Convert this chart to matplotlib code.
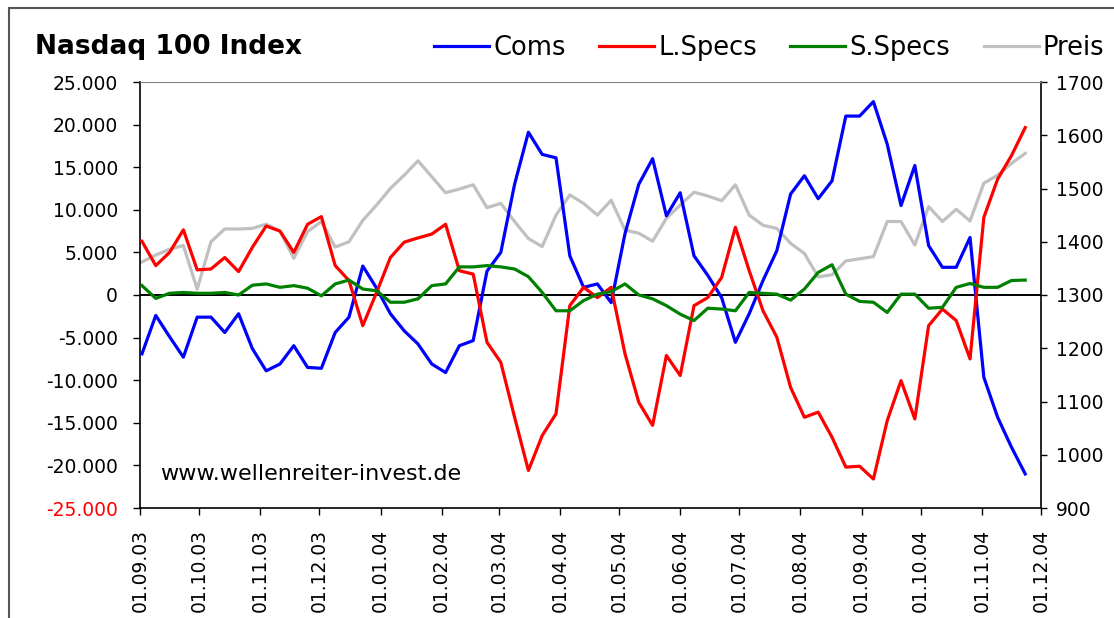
import matplotlib
matplotlib.use('Agg')
import matplotlib.pyplot as plt
import pandas as pd
from matplotlib.ticker import FuncFormatter, MultipleLocator
from matplotlib.patches import Rectangle
import matplotlib.dates as mdates

# weekly COT report dates (Tuesdays)
dates = pd.date_range('2003-09-02', periods=65, freq='7D')

coms = [-6900, -2400, -4900, -7300, -2600, -2600, -4400, -2200, -6300, -8900,
        -8100, -5950, -8500, -8600, -4400, -2600, 3400, 800, -2200, -4200,
        -5750, -8100, -9100, -5950, -5350, 2800, 5000, 13000, 19100, 16500,
        16100, 4600, 900, 1300, -900, 7200, 13000, 16000, 9300, 12000,
        4600, 2300, -300, -5550, -2200, 1700, 5200, 11850, 14000, 11300,
        13400, 21000, 21000, 22700, 17700, 10500, 15200, 5800, 3250, 3250,
        6750, -9650, -14350, -17850, -21000]

l_specs = [6300, 3450, 5000, 7650, 2950, 3050, 4400, 2750, 5600, 8100,
           7500, 5000, 8300, 9200, 3450, 1700, -3600, 300, 4400, 6200,
           6700, 7150, 8300, 2850, 2450, -5550, -7900, -14350, -20600, -16500,
           -13950, -1250, 900, -300, 900, -6900, -12600, -15300, -7100, -9450,
           -1250, -300, 2050, 7950, 2850, -1850, -4950, -10850, -14350, -13750,
           -16700, -20200, -20100, -21600, -14750, -10050, -14550, -3600, -1650, -3000,
           -7500, 9100, 13600, 16350, 19650]

s_specs = [1100, -400, 200, 300, 200, 200, 300, 0, 1150, 1300,
           900, 1100, 800, -100, 1300, 1750, 700, 500, -850, -850,
           -450, 1100, 1300, 3300, 3300, 3450, 3300, 3050, 2150, 300,
           -1850, -1850, -650, 100, 400, 1300, 0, -450, -1250, -2250,
           -3000, -1550, -1650, -1850, 300, 200, 100, -600, 700, 2650,
           3550, 100, -750, -850, -2050, 100, 100, -1550, -1450, 900,
           1350, 900, 900, 1700, 1750]

preis = [1362, 1375, 1386, 1393, 1311, 1400, 1424, 1424, 1425, 1433,
         1420, 1369, 1419, 1438, 1390, 1400, 1440, 1469, 1500, 1525,
         1552, 1522, 1492, 1499, 1507, 1464, 1472, 1438, 1406, 1391,
         1450, 1488, 1472, 1450, 1478, 1422, 1416, 1401, 1444, 1469,
         1493, 1486, 1477, 1507, 1450, 1431, 1425, 1397, 1378, 1334,
         1338, 1364, 1368, 1372, 1438, 1438, 1394, 1466, 1438, 1461,
         1439, 1510, 1525, 1547, 1566]

W, H = 1114, 618
fig = plt.figure(figsize=(W / 100, H / 100), dpi=100)
ax = fig.add_axes([140 / W, 1 - 508 / H, (1041 - 140) / W, (508 - 82) / H])
ax2 = ax.twinx()

# price line behind the COT lines
l4, = ax2.plot(dates, preis, color='#C0C0C0', lw=2.3, label='Preis')
ax.set_zorder(ax2.get_zorder() + 1)
ax.patch.set_visible(False)

ax.axhline(0, color='black', lw=1.4, zorder=1)
l1, = ax.plot(dates, coms, color='#0000FF', lw=2.3, label='Coms', zorder=3)
l2, = ax.plot(dates, l_specs, color='#FF0000', lw=2.3, label='L.Specs', zorder=3)
l3, = ax.plot(dates, s_specs, color='#008000', lw=2.3, label='S.Specs', zorder=3)

ax.set_xlim(pd.Timestamp('2003-09-01'), pd.Timestamp('2004-12-01'))
ax.set_ylim(-25000, 25000)
ax2.set_ylim(900, 1700)
ax.yaxis.set_major_locator(MultipleLocator(5000))
ax2.yaxis.set_major_locator(MultipleLocator(100))
ax.yaxis.set_major_formatter(FuncFormatter(lambda v, p: f'{v:,.0f}'.replace(',', '.')))
ax.xaxis.set_major_locator(mdates.MonthLocator())
ax.xaxis.set_major_formatter(mdates.DateFormatter('%d.%m.%y'))

ax.tick_params(axis='y', direction='out', length=5, width=1, labelsize=13.5, pad=11)
ax.tick_params(axis='x', direction='out', length=5, width=1, labelsize=13.5, pad=10,
               labelrotation=90)
ax2.tick_params(axis='y', direction='out', length=4, width=1, labelsize=13.5, pad=7)

for s in ['left', 'bottom']:
    ax.spines[s].set_linewidth(1.2)
ax.spines['right'].set_visible(False)
ax.spines['top'].set_color('#808080')
ax2.spines['top'].set_visible(False)
ax2.spines['left'].set_visible(False)
ax2.spines['bottom'].set_visible(False)
ax2.spines['right'].set_linewidth(1.2)

# Excel shows the bottom label in red
fig.canvas.draw()
for t in ax.get_yticklabels():
    if t.get_text().startswith('-25'):
        t.set_color('red')

fig.text(35 / W, 1 - 54 / H, 'Nasdaq 100 Index', fontsize=19, fontweight='bold',
         va='baseline', ha='left')
fig.legend([l1, l2, l3, l4], ['Coms', 'L.Specs', 'S.Specs', 'Preis'],
           loc='center left', bbox_to_anchor=(434 / W, 1 - 48 / H), ncol=4,
           frameon=False, fontsize=18.5, handlelength=2.15, handletextpad=0.15,
           columnspacing=1.3, borderpad=0, borderaxespad=0)
fig.text(160 / W, 1 - 480 / H, 'www.wellenreiter-invest.de', fontsize=16,
         va='baseline', ha='left')

fig.add_artist(Rectangle((9 / W, -0.1), 1.2, 1 - 8 / H + 0.1, transform=fig.transFigure,
                         fill=False, edgecolor='#555555', lw=1.5))

fig.savefig('out.png', dpi=100)
